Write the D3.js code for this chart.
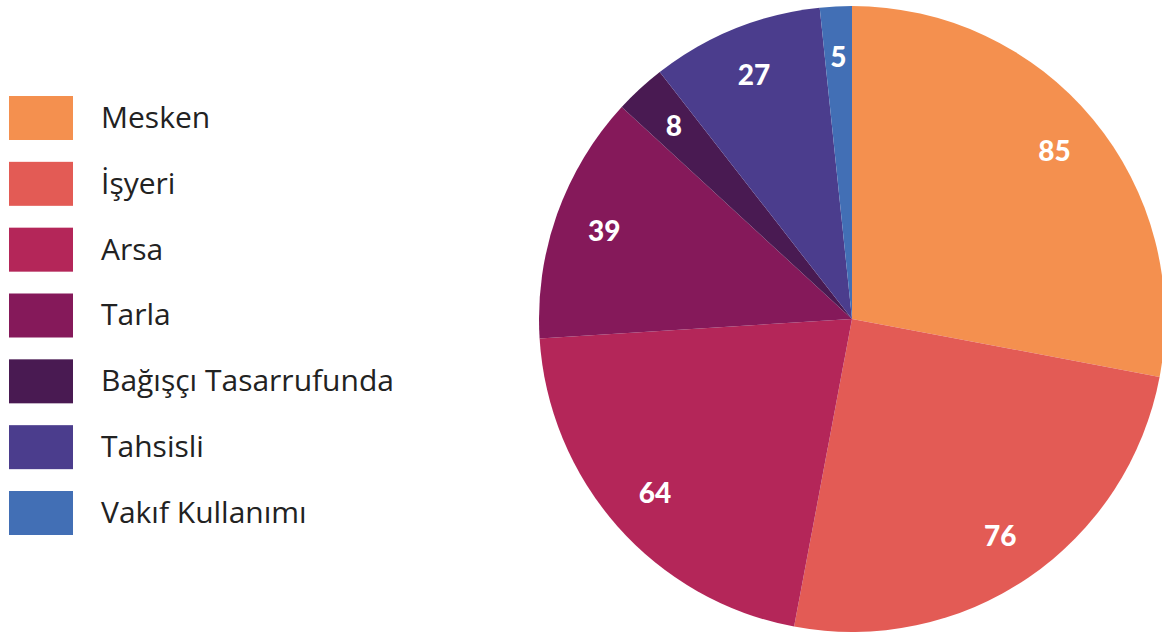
<!DOCTYPE html>
<html>
<head>
<meta charset="utf-8">
<script src="https://cdn.jsdelivr.net/npm/d3@7"></script>
<style>
  body { margin: 0; background: #fff; }
  svg { display: block; }
</style>
</head>
<body>
<div id="container"></div>
<script>
// data
const categories = ["Mesken", "İşyeri", "Arsa", "Tarla", "Bağışçı Tasarrufunda", "Tahsisli", "Vakıf Kullanımı"];
const values = [85, 76, 64, 39, 8, 27, 5];
const colors = ["#F4904F", "#E35B55", "#B42659", "#85195A", "#491A52", "#4B3D8D", "#426FB5"];

const width = 1162;
const height = 632;

const svg = d3.select("#container").
append("svg").
attr("width", width).
attr("height", height);

const color = d3.scaleOrdinal().domain(categories).range(colors);

// Pie
const cx = 852, cy = 319, radius = 313;

const pie = d3.pie().sort(null).value(d => d.value);
const arcs = pie(categories.map((c, i) => ({ name: c, value: values[i] })));

const arc = d3.arc().innerRadius(0).outerRadius(radius);
const labelArc = d3.arc().innerRadius(radius * 0.84).outerRadius(radius * 0.84);

const g = svg.append("g").attr("transform", `translate(${cx},${cy})`);

g.selectAll("path").
data(arcs).
enter().
append("path").
attr("d", arc).
attr("fill", d => color(d.data.name));

g.selectAll("text").
data(arcs).
enter().
append("text").
attr("transform", d => `translate(${labelArc.centroid(d)})`).
attr("text-anchor", "middle").
attr("dy", "0.36em").
attr("fill", "#fff").
style("font-family", "Lato, 'Open Sans', sans-serif").
style("font-weight", "900").
style("font-size", "28px").
text(d => d.data.value);

// Legend
const legendY = d3.scalePoint().domain(categories).range([118, 513]);

const legend = svg.append("g").attr("class", "legend");

const item = legend.selectAll("g").
data(categories).
enter().
append("g").
attr("transform", d => `translate(0,${legendY(d)})`);

item.append("rect").
attr("x", 9).
attr("y", -22).
attr("width", 64).
attr("height", 44).
attr("fill", d => color(d));

item.append("text").
attr("x", 101).
attr("dy", "0.33em").
attr("fill", "#222").
style("font-family", "'Open Sans', sans-serif").
style("font-size", "30px").
text(d => d);
</script>
</body>
</html>
